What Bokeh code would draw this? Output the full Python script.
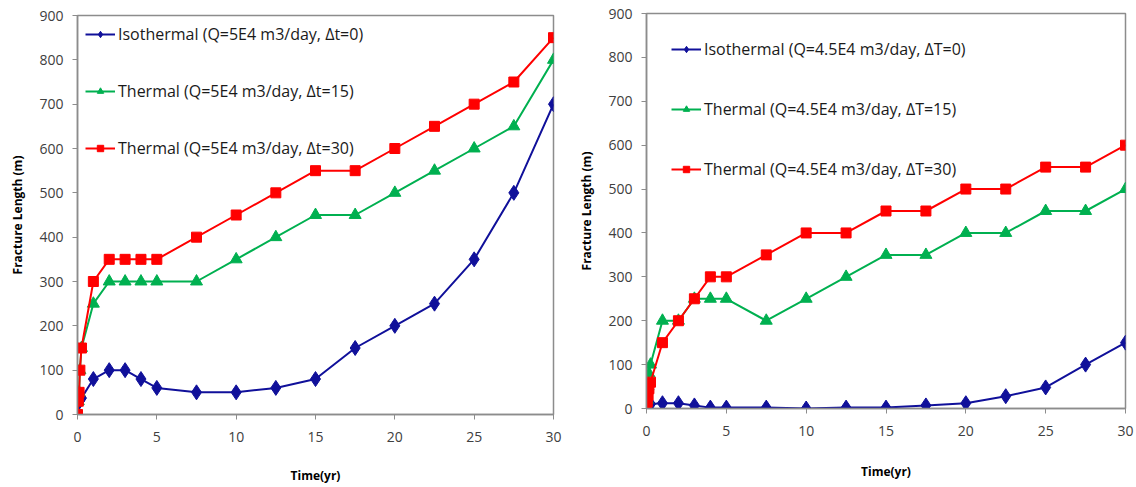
from bokeh.plotting import figure
from bokeh.layouts import row, column
from bokeh.models import Range1d, FixedTicker
from bokeh.embed import file_html
from bokeh.resources import INLINE

# Time (years)
time = [0, 0.05, 0.1, 0.15, 0.25, 1, 2, 3, 4, 5, 7.5, 10, 12.5, 15, 17.5, 20, 22.5, 25, 27.5, 30]

# Q = 5E4 m3/day
left_iso = [0, 25, 30, 33, 37, 80, 100, 100, 80, 60, 50, 50, 60, 80, 150, 200, 250, 350, 500, 700]
left_t15 = [0, 30, 50, 100, 150, 250, 300, 300, 300, 300, 300, 350, 400, 450, 450, 500, 550, 600, 650, 800]
left_t30 = [0, 30, 50, 100, 150, 300, 350, 350, 350, 350, 400, 450, 500, 550, 550, 600, 650, 700, 750, 850]

# Q = 4.5E4 m3/day
right_iso = [0, 3, 5, 8, 10, 12, 12, 7, 2, 2, 2, 0, 2, 2, 7, 12, 28, 48, 100, 150]
right_t15 = [0, 20, 50, 80, 100, 200, 200, 250, 250, 250, 200, 250, 300, 350, 350, 400, 400, 450, 450, 500]
right_t30 = [0, 15, 30, 45, 60, 150, 200, 250, 300, 300, 350, 400, 400, 450, 450, 500, 500, 550, 550, 600]

left_labels = ["Isothermal (Q=5E4 m3/day, \u0394t=0)",
               "Thermal (Q=5E4 m3/day, \u0394t=15)",
               "Thermal (Q=5E4 m3/day, \u0394t=30)"]
right_labels = ["Isothermal (Q=4.5E4 m3/day, \u0394T=0)",
                "Thermal (Q=4.5E4 m3/day, \u0394T=15)",
                "Thermal (Q=4.5E4 m3/day, \u0394T=30)"]

BLUE = "#10109A"
GREEN = "#00B050"
RED = "#FF0000"
FONT = "Open Sans"
AXIS_GREY = "#8C8C8C"


def make_panel(width, borders, series, labels, legend_margin, legend_spacing, xlabel_standoff):
    left, right, top, bottom = borders
    p = figure(width=width, height=487, output_backend="svg", toolbar_location=None,
               title=None, x_range=Range1d(0, 30), y_range=Range1d(0, 900),
               min_border_left=left, min_border_right=right,
               min_border_top=top, min_border_bottom=bottom)
    p.xgrid.visible = False
    p.ygrid.visible = False
    p.outline_line_color = AXIS_GREY
    p.outline_line_width = 1.5
    p.background_fill_color = "white"
    p.border_fill_color = "white"

    p.xaxis.ticker = FixedTicker(ticks=[0, 5, 10, 15, 20, 25, 30])
    p.yaxis.ticker = FixedTicker(ticks=list(range(0, 901, 100)))
    for ax in (p.xaxis, p.yaxis):
        ax.axis_line_color = AXIS_GREY
        ax.axis_line_width = 1.5
        ax.major_tick_line_color = AXIS_GREY
        ax.major_tick_out = 5
        ax.major_tick_in = 0
        ax.minor_tick_line_color = None
        ax.major_label_text_font = FONT
        ax.major_label_text_font_size = "14px"
        ax.major_label_text_color = "#404040"
        ax.axis_label_text_font = FONT
        ax.axis_label_text_font_size = "12px"
        ax.axis_label_text_font_style = "bold"
        ax.axis_label_text_color = "#000000"
    p.xaxis.axis_label = "Time(yr)"
    p.yaxis.axis_label = "Fracture Length (m)"
    p.yaxis.major_label_standoff = 9
    p.xaxis.major_label_standoff = 12
    p.yaxis.axis_label_standoff = 10
    p.xaxis.axis_label_standoff = xlabel_standoff

    iso, t15, t30 = series
    p.line(time, iso, color=BLUE, line_width=2, legend_label=labels[0])
    p.scatter(time, iso, marker="diamond", size=15, color=BLUE, legend_label=labels[0])
    p.line(time, t15, color=GREEN, line_width=2, legend_label=labels[1])
    p.scatter(time, t15, marker="triangle", size=12, color=GREEN, legend_label=labels[1])
    p.line(time, t30, color=RED, line_width=2, legend_label=labels[2])
    p.scatter(time, t30, marker="square", size=10, color=RED, legend_label=labels[2])

    lg = p.legend[0]
    lg.location = "top_left"
    lg.margin = legend_margin
    lg.padding = 10
    lg.border_line_color = None
    lg.background_fill_alpha = 0
    lg.label_text_font = FONT
    lg.label_text_font_size = "16px"
    lg.label_text_color = "#1A1A1A"
    lg.label_height = 16
    lg.glyph_height = 16
    lg.glyph_width = 30
    lg.label_standoff = 3
    lg.spacing = legend_spacing
    return p


p1 = make_panel(570, (77, 17, 15, 73), (left_iso, left_t15, left_t30), left_labels, 8, 35, 22)
p2 = make_panel(566, (76, 11, 13, 79), (right_iso, right_t15, right_t30), right_labels, 25, 38, 24)

# each panel sits in its own column so their frames are laid out independently
layout = row(column(p1), column(p2))
open("out.html", "w").write(file_html(layout, INLINE))
